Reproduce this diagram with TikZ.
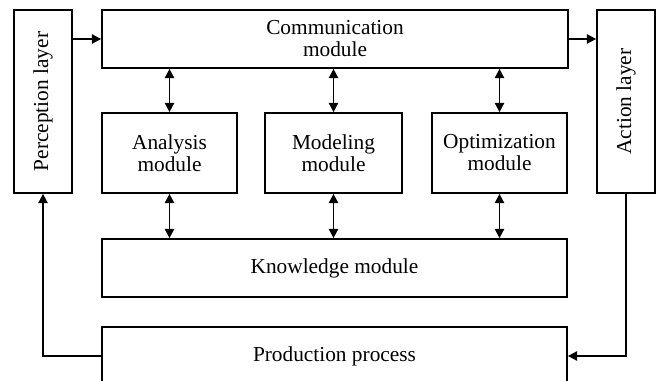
\documentclass[tikz,border=0pt]{standalone}
\usepackage{fontspec}
\setmainfont{Liberation Serif}
\usetikzlibrary{arrows.meta,positioning}
\tikzset{
  blk/.style={draw, line width=1.3pt, align=center, inner sep=0pt, font=\fontsize{16}{16.5}\selectfont},
  link/.style={-{Triangle[length=7pt,width=7pt]}, line width=1.3pt},
  dlink/.style={{Triangle[length=7pt,width=7pt]}-{Triangle[length=7pt,width=7pt]}, line width=1.3pt}
}
\begin{document}
\begin{tikzpicture}[x=0.75pt,y=-0.75pt]
  \useasboundingbox (0,0) rectangle (657,381);

  %% --- side layers ---
  \node[blk, minimum width=43.5pt, minimum height=137.25pt] (percep) at (43,101.5) {\rotatebox{90}{Perception layer}};
  \node[blk, minimum width=43.5pt, minimum height=137.25pt] (action) at (626,101.5) {\rotatebox{90}{Action layer}};

  %% --- modules ---
  \node[blk, minimum width=349.5pt, minimum height=43.5pt] (comm)  at (335,39)    {Communication\\module};
  \node[blk, minimum width=101.25pt, minimum height=60pt]  (anal)  at (169.5,153) {Analysis\\module};
  \node[blk, minimum width=102.75pt, minimum height=60pt]  (model) at (333.5,153) {Modeling\\module};
  \node[blk, minimum width=101.25pt, minimum height=60pt]  (optim) at (499.5,153) {Optimization\\module};
  \node[blk, minimum width=348.75pt, minimum height=43.5pt] (know) at (334.5,268) {Knowledge module};
  \node[blk, minimum width=348.75pt, minimum height=43.5pt] (prod) at (334.5,356) {Production process};

  %% --- connectors ---
  \draw[link] (comm.west -| percep.east) -- (comm.west);
  \draw[link] (comm.east) -- (comm.east -| action.west);
  \foreach \m in {anal,model,optim} {
    \draw[dlink] (\m.north |- comm.south) -- (\m.north);
    \draw[dlink] (\m.south) -- (\m.south |- know.north);
  }
  \draw[link] (prod.west) -| (percep.south);
  \draw[link] (action.south) |- (prod.east);
\end{tikzpicture}
\end{document}
